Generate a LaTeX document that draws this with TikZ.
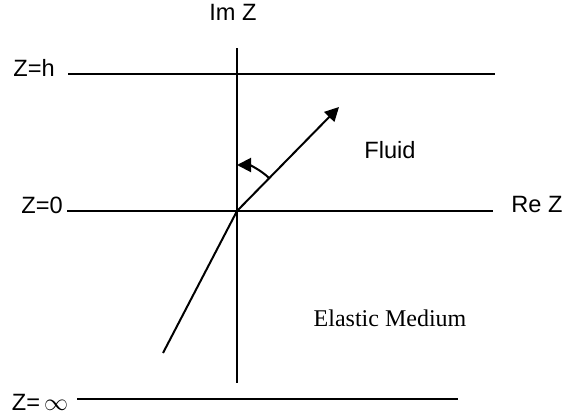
\documentclass[tikz,border=0pt]{standalone}
\usepackage{fontspec}
\setmainfont{Liberation Sans}
\newfontfamily\timesfont{Liberation Serif}
\usetikzlibrary{arrows.meta}
\begin{document}
\begin{tikzpicture}[x=0.5pt,y=-0.5pt,
  ax/.style={line width=1pt},
  lbl/.style={inner sep=0pt,font=\fontsize{11.8}{13}\selectfont},
  tip/.style={-{Triangle[length=7pt,width=7pt]}}]
\useasboundingbox (0,0) rectangle (564,418);
% coordinates
\coordinate (O) at (237,211);
\coordinate (vtop) at (237,48);
\coordinate (vbot) at (237,383);
\coordinate (hL) at (68,74);
\coordinate (hR) at (495,74);
\coordinate (zL) at (67,211);
\coordinate (zR) at (493,211);
\coordinate (iL) at (77,399);
\coordinate (iR) at (458,399);
\coordinate (ray) at (339,107);
\coordinate (refr) at (163,353);
% labels
\node[lbl] (imz) at (233,12) {Im Z};
\node[lbl] (zh) at (34,68) {Z=h};
\node[lbl] (z0) at (42,205) {Z=0};
\node[lbl] (zinf) at (40,402) {Z=\,$\infty$};
\node[lbl] (rez) at (537,204) {Re Z};
\node[lbl] (fluid) at (390,150) {Fluid};
\node[lbl,font=\fontsize{12}{13}\timesfont] (em) at (390,318) {Elastic Medium};
% lines
\draw[ax] (vtop) -- (vbot);
\draw[ax] (hL) -- (hR);
\draw[ax] (zL) -- (zR);
\draw[ax] (iL) -- (iR);
\draw[ax,tip] (O) -- (ray);
\draw[ax] (O) -- (refr);
\draw[ax,tip] ([shift={(-45:46)}]O) arc[start angle=-45,end angle=-90,radius=46];
\end{tikzpicture}
\end{document}
